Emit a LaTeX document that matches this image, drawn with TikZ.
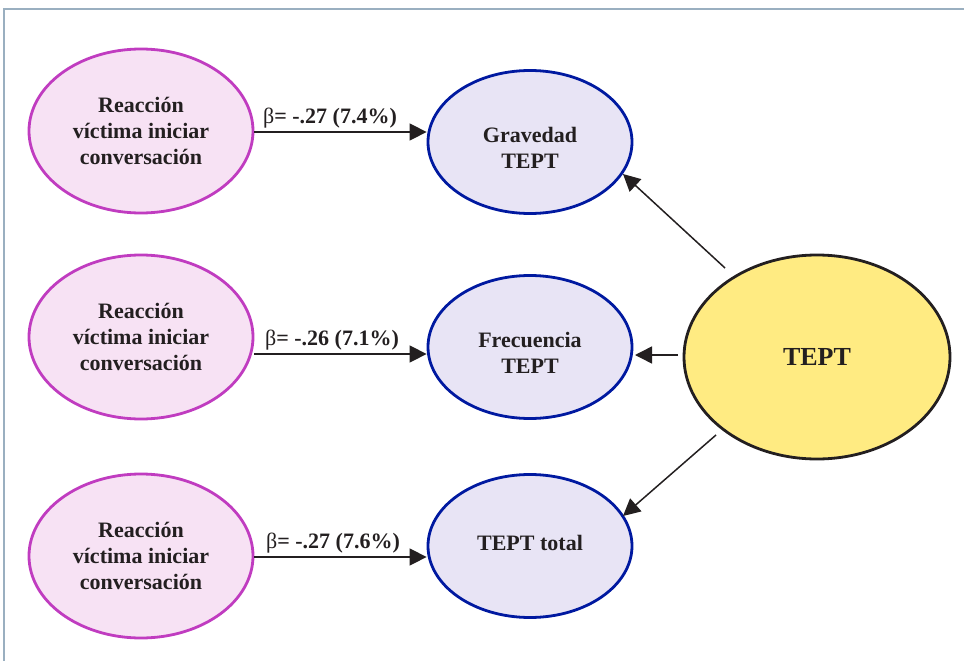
\documentclass[tikz,border=0pt]{standalone}
\usepackage{fontspec}
\setmainfont{Liberation Serif}
\usetikzlibrary{shapes.geometric,arrows.meta,calc}

\definecolor{inkc}{HTML}{231F20}
\definecolor{pinkfill}{HTML}{F7E2F4}
\definecolor{pinkline}{HTML}{C03CC0}
\definecolor{bluefill}{HTML}{E8E4F5}
\definecolor{blueline}{HTML}{0019A0}
\definecolor{yelfill}{HTML}{FFEB82}
\definecolor{framec}{HTML}{9AAFC0}

\tikzset{
  predictor/.style={ellipse, draw=pinkline, fill=pinkfill, line width=2.8pt,
    minimum width=224pt, minimum height=164pt, inner sep=0pt, align=center,
    text=inkc, font=\fontsize{22}{26}\selectfont\bfseries},
  outcome/.style={ellipse, draw=blueline, fill=bluefill, line width=2.8pt,
    minimum width=204pt, minimum height=143pt, inner sep=0pt},
  otext/.style={inner sep=0pt, align=center, text=inkc,
    font=\fontsize{22}{26}\selectfont\bfseries},
  factor/.style={ellipse, draw=inkc, fill=yelfill, line width=2.8pt,
    minimum width=266pt, minimum height=204pt, inner sep=0pt,
    text=inkc, font=\fontsize{26}{30}\selectfont\bfseries},
  beta/.style={anchor=base, text=inkc, inner sep=0pt,
    font=\fontsize{22}{26}\selectfont\bfseries},
  link/.style={draw=inkc, line width=1.5pt,
    -{Triangle[length=17pt,width=17pt]}},
}

\begin{document}
\begin{tikzpicture}[x=1pt,y=-1pt]
  \useasboundingbox (0,0) rectangle (964,661);

  % frame (top and left edges)
  \draw[framec, line width=1.5pt] (4,661) -- (4,9) -- (964,9);

  % predictor ellipses
  \node[predictor] (p1) at (141,131) {Reacción\\víctima iniciar\\conversación};
  \node[predictor] (p2) at (141,337) {Reacción\\víctima iniciar\\conversación};
  \node[predictor] (p3) at (141,556) {Reacción\\víctima iniciar\\conversación};

  % outcome ellipses and their labels
  \node[outcome] (g) at (530,142) {};
  \node[outcome] (f) at (530,347) {};
  \node[outcome] (t) at (530,546) {};
  \node[otext] (gt) at ([yshift=-6pt]g.center) {Gravedad\\TEPT};
  \node[otext] (ft) at ([yshift=-6pt]f.center) {Frecuencia\\TEPT};
  \node[otext] (tt) at ([yshift=3pt]t.center) {TEPT total};

  % latent factor
  \node[factor] (tept) at (817,357) {TEPT};

  % regression paths
  \draw[link] ([yshift=-1pt]p1.east) -- ([yshift=-1pt]p1.east -| g.west);
  \draw[link] ([yshift=-17pt]p2.east) -- ([yshift=-17pt]p2.east -| f.west);
  \draw[link] ([yshift=-1pt]p3.east) -- ([yshift=-1pt]p3.east -| t.west);

  \node[beta] (b1) at (330,123) {{\mdseries β}= -.27 (7.4\%)};
  \node[beta] (b2) at (332,345) {{\mdseries β}= -.26 (7.1\%)};
  \node[beta] (b3) at (333,548) {{\mdseries β}= -.27 (7.6\%)};

  % loadings from the factor
  \coordinate (s1) at (725,268);
  \coordinate (s2) at (678,355);
  \coordinate (s3) at (716,435);
  \coordinate (e1) at (623,174);
  \coordinate (e2) at (635,355);
  \coordinate (e3) at (623,516);
  \draw[link] (s1) -- (e1);
  \draw[link] (s2) -- (e2);
  \draw[link] (s3) -- (e3);
\end{tikzpicture}
\end{document}
